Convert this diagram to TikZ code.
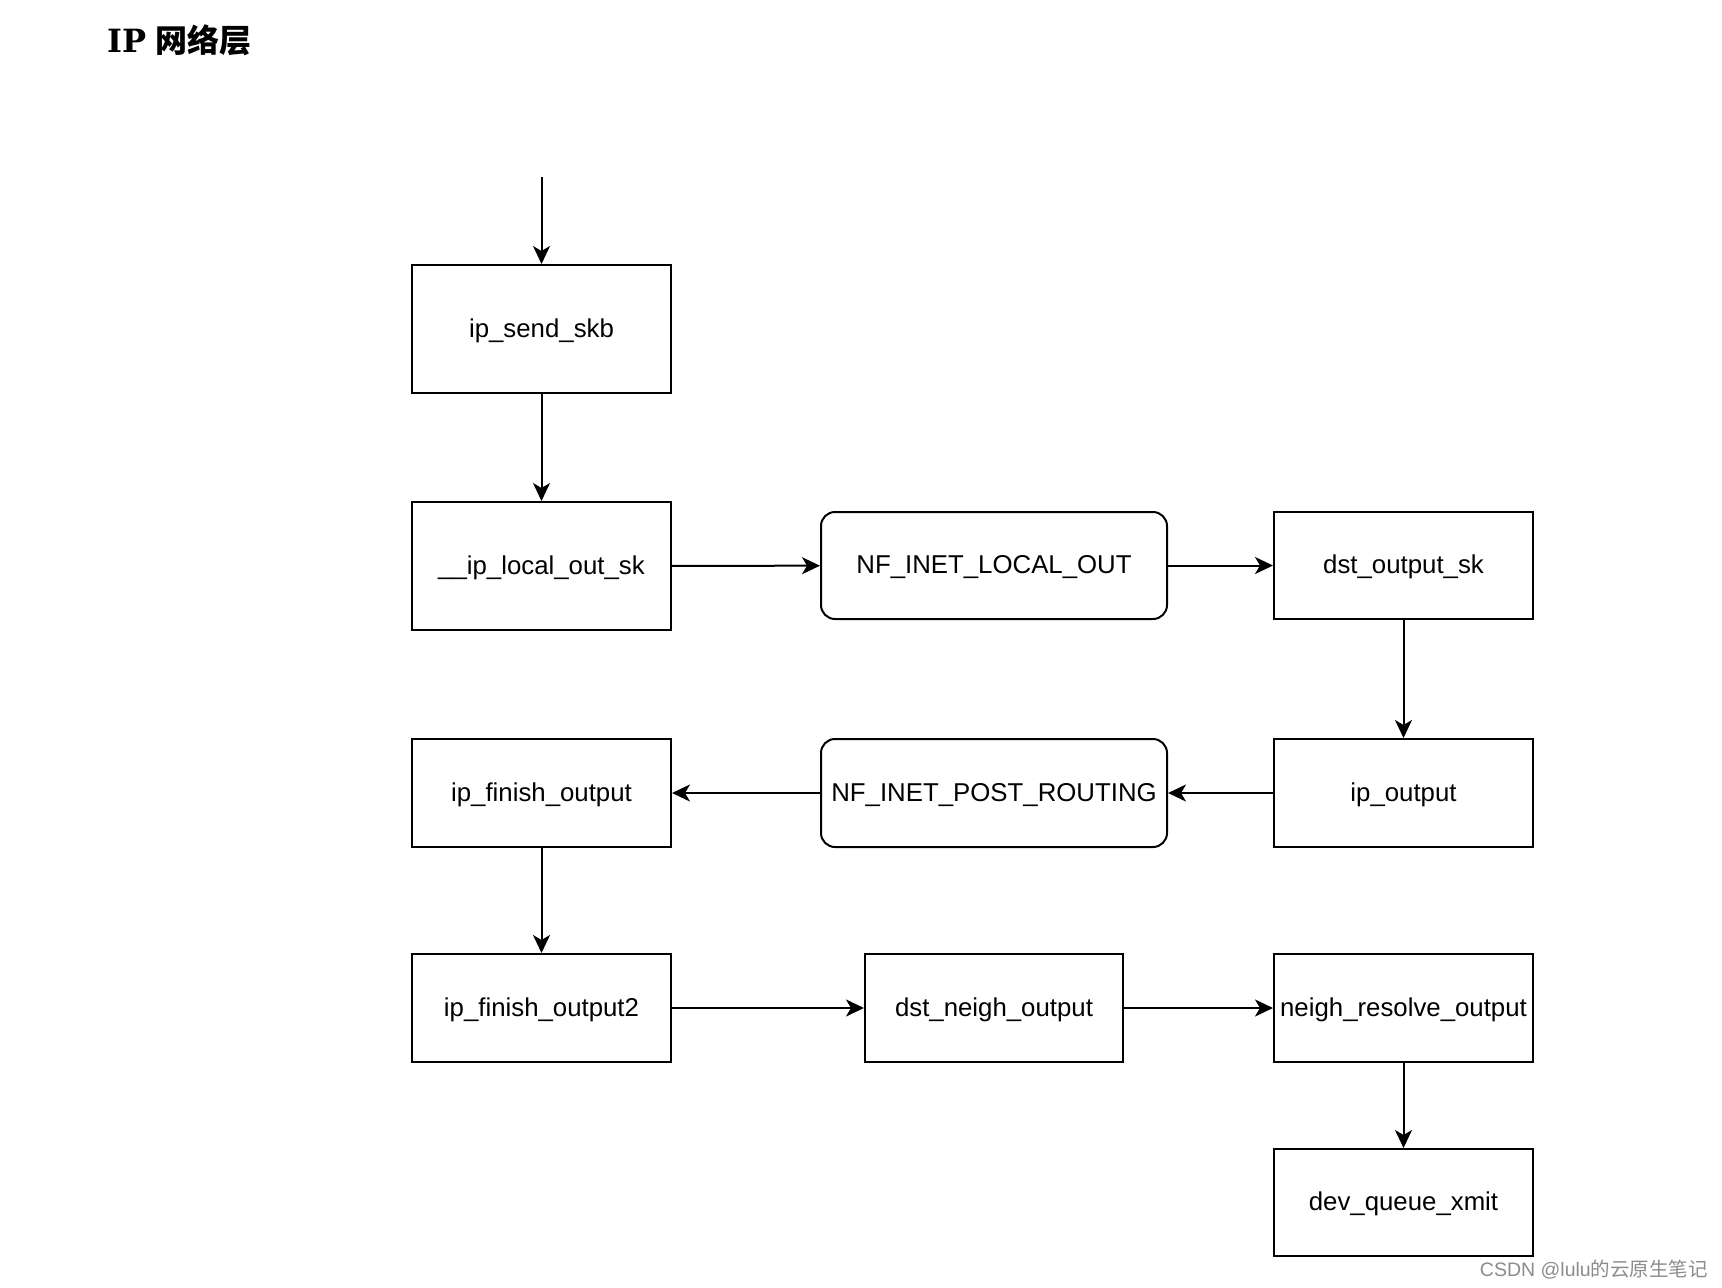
\documentclass[tikz,border=0pt]{standalone}
\usepackage{fontspec}
\setmainfont{Liberation Sans}
\newfontfamily\cjk{Noto Sans CJK SC}
\newfontfamily\titleserif{DejaVu Serif}
\usetikzlibrary{arrows.meta}
\begin{document}
\begin{tikzpicture}[x=1pt,y=-1pt,
  box/.style={draw=black,line width=2pt,minimum width=259pt,inner sep=0pt,
    font=\fontsize{25.8}{30}\selectfont,anchor=north west,text depth=2pt},
  hook/.style={box,rounded corners=14pt,minimum width=346pt},
  conn/.style={line width=2pt,-{Stealth[length=18pt,width=17pt,inset=5pt]}}]
\useasboundingbox[fill=white] (0,0) rectangle (1722,1288);
\node[anchor=west,inner sep=0pt] (title) at (107,40)
  {\fontsize{32}{40}\selectfont{\titleserif\bfseries IP} {\cjk\bfseries 网络层}};
% nodes
\node[box,minimum height=128pt] (send) at (411,264) {ip\_send\_skb};
\node[box,minimum height=128pt] (local) at (411,501) {\_\_ip\_local\_out\_sk};
\node[hook,minimum height=107pt] (nflocal) at (820,511) {NF\_INET\_LOCAL\_OUT};
\node[box,minimum height=107pt] (dstout) at (1273,511) {dst\_output\_sk};
\node[box,minimum height=108pt] (ipout) at (1273,738) {ip\_output};
\node[hook,minimum height=108pt] (nfpost) at (820,738) {NF\_INET\_POST\_ROUTING};
\node[box,minimum height=108pt] (fin) at (411,738) {ip\_finish\_output};
\node[box,minimum height=108pt] (fin2) at (411,953) {ip\_finish\_output2};
\node[box,minimum height=108pt,minimum width=258pt] (neigh) at (864,953) {dst\_neigh\_output};
\node[box,minimum height=108pt] (resolve) at (1273,953) {neigh\_resolve\_output};
\node[box,minimum height=107pt] (xmit) at (1273,1148) {dev\_queue\_xmit};
\coordinate (start) at (send.north |- 0,177);
% connectors
\draw[conn] (start) -- (send.north);
\draw[conn] (send) -- (local);
\draw[conn] (local) -- (nflocal);
\draw[conn] (nflocal) -- (dstout);
\draw[conn] (dstout) -- (ipout);
\draw[conn] (ipout) -- (nfpost);
\draw[conn] (nfpost) -- (fin);
\draw[conn] (fin) -- (fin2);
\draw[conn] (fin2) -- (neigh);
\draw[conn] (neigh) -- (resolve);
\draw[conn] (resolve) -- (xmit);
% watermark
\node[anchor=east,inner sep=0pt,text=black!45,font=\fontsize{19.5}{23}\selectfont] (wm) at (1708,1270)
  {CSDN @lulu{\cjk 的云原生笔记}};
\end{tikzpicture}
\end{document}
